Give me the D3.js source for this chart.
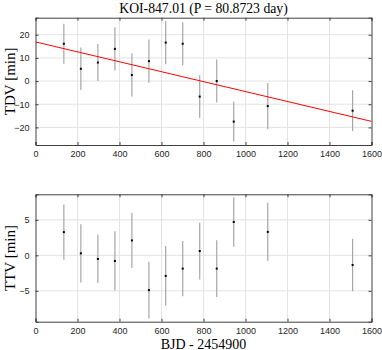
<!DOCTYPE html>
<html>
<head>
<meta charset="utf-8">
<script src="https://cdn.jsdelivr.net/npm/d3@7"></script>
<style>
  body { margin: 0; background: #fff; }
  svg { display: block; }
  .tick text { font-family: "Liberation Sans", Arial, sans-serif; font-size: 9px; fill: #262626; }
  .lab { font-family: "Liberation Serif", "DejaVu Serif", serif; fill: #000; }
</style>
</head>
<body>
<div id="chart"></div>
<script>
// epochs (BJD - 2454900)
const epochs = [135, 216, 297, 378, 459, 540, 620, 701, 782, 863, 944, 1106, 1510];
// transit duration variations [min]
const tdv    = [16.1, 5.3, 8.0, 13.9, 2.6, 8.6, 16.6, 16.1, -6.7, 0.0, -17.5, -10.8, -12.8];
const tdvErr = [8.6, 9.2, 8.0, 9.3, 9.3, 9.3, 9.3, 9.3, 9.2, 9.3, 8.6, 10.0, 8.8];
// transit timing variations [min]
const ttv    = [3.27, 0.28, -0.51, -0.8, 2.1, -4.9, -2.9, -1.87, 0.6, -1.87, 4.7, 3.3, -1.36];
const ttvErr = [3.9, 4.1, 3.4, 4.2, 3.9, 4.0, 4.2, 3.9, 4.0, 4.0, 3.5, 4.1, 3.7];
// linear fit to TDV
const fitX = [0, 1600];
const fitY = [16.9, -17.4];

const xTicks = [0, 200, 400, 600, 800, 1000, 1200, 1400, 1600];
const tdvTicks = [-20, -10, 0, 10, 20];
const ttvTicks = [-5, 0, 5];

const W = 382, H = 350;
const svg = d3.select("#chart").append("svg").attr("width", W).attr("height", H);

const left = 35.5, right = 371.5;
const x = d3.scaleLinear().domain([0, 1600]).range([left, right]);

function panel(top, bottom, yDomain, yTicks, ys, errs, ylabel, fit) {
  const y = d3.scaleLinear().domain(yDomain).range([bottom, top]);
  const g = svg.append("g");

  // grid
  g.selectAll(".gx").data(xTicks.slice(1, -1)).enter().append("line")
    .attr("x1", d => x(d)).attr("x2", d => x(d)).attr("y1", top).attr("y2", bottom)
    .attr("stroke", "#e3e3e3").attr("stroke-width", 1);
  g.selectAll(".gy").data(yTicks).enter().append("line")
    .attr("y1", d => y(d)).attr("y2", d => y(d)).attr("x1", left).attr("x2", right)
    .attr("stroke", "#e3e3e3").attr("stroke-width", 1);

  const clipId = "clip" + Math.round(top);
  svg.append("clipPath").attr("id", clipId).append("rect")
    .attr("x", left).attr("y", top).attr("width", right - left).attr("height", bottom - top);

  // error bars
  g.selectAll(".eb").data(epochs).enter().append("line")
    .attr("x1", d => x(d)).attr("x2", d => x(d))
    .attr("y1", (d, i) => y(ys[i] + errs[i])).attr("y2", (d, i) => y(ys[i] - errs[i]))
    .attr("stroke", "#a6a6a6").attr("stroke-width", 1.2);

  if (fit) {
    g.append("path").attr("clip-path", "url(#" + clipId + ")")
      .datum(fitX.map((d, i) => [d, fitY[i]]))
      .attr("d", d3.line().x(d => x(d[0])).y(d => y(d[1])))
      .attr("stroke", "#ff0000").attr("stroke-width", 1).attr("fill", "none");
  }

  // points
  g.selectAll(".pt").data(epochs).enter().append("rect")
    .attr("x", d => x(d) - 1).attr("y", (d, i) => y(ys[i]) - 1)
    .attr("width", 2).attr("height", 2).attr("fill", "#000");

  // axes (ticks inward)
  const ax = (gen, tr) => {
    const a = g.append("g").attr("transform", tr).call(gen);
    a.select(".domain").attr("stroke", "#404040");
    a.selectAll(".tick line").attr("stroke", "#404040");
    return a;
  };
  ax(d3.axisBottom(x).tickValues(xTicks).tickSize(-3).tickPadding(6).tickFormat(d3.format("d")), `translate(0,${bottom})`);
  ax(d3.axisTop(x).tickValues(xTicks).tickSize(-3).tickFormat(""), `translate(0,${top})`);
  ax(d3.axisLeft(y).tickValues(yTicks).tickSize(-3).tickPadding(6).tickFormat(d3.format("d")), `translate(${left},0)`);
  ax(d3.axisRight(y).tickValues(yTicks).tickSize(-3).tickFormat(""), `translate(${right},0)`);
  g.selectAll(".domain").attr("stroke-width", 1);

  svg.append("text").attr("class", "lab")
    .attr("transform", `translate(15,${(top + bottom) / 2}) rotate(-90)`)
    .attr("text-anchor", "middle").attr("font-size", 15).text(ylabel);
  return y;
}

panel(17.7, 145, [-27.6, 27.35], tdvTicks, tdv, tdvErr, "TDV [min]", true);
panel(194.3, 321.7, [-9.35, 8.6], ttvTicks, ttv, ttvErr, "TTV [min]", false);

svg.append("text").attr("class", "lab")
  .attr("x", (left + right) / 2).attr("y", 13).attr("text-anchor", "middle")
  .attr("font-size", 13.7).text("KOI-847.01 (P = 80.8723 day)");
svg.append("text").attr("class", "lab")
  .attr("x", (left + right) / 2).attr("y", 348.5).attr("text-anchor", "middle")
  .attr("font-size", 14).text("BJD - 2454900");
</script>
</body>
</html>
